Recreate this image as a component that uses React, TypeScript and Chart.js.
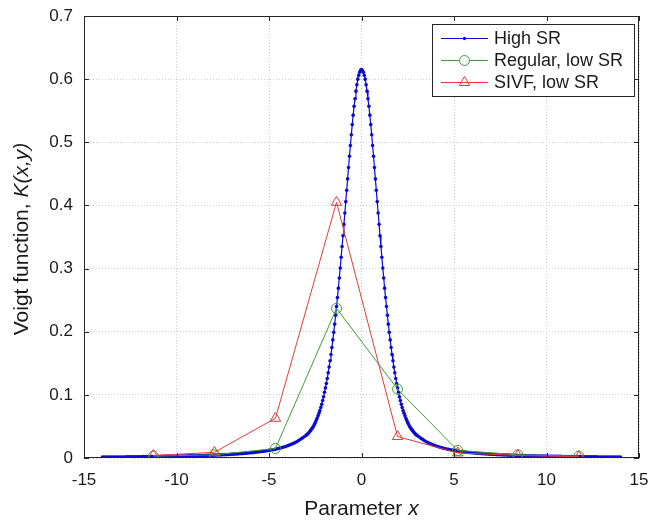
import React, { useEffect, useRef } from "react";
import { Chart, registerables } from "chart.js";

Chart.register(...registerables);

// ---- data ----
const seriesNames = ["High SR", "Regular, low SR", "SIVF, low SR"];

const highX = [
  -14, -13.9, -13.8, -13.7, -13.6, -13.5, -13.4, -13.3, -13.2, -13.1,
  -13, -12.9, -12.8, -12.7, -12.6, -12.5, -12.4, -12.3, -12.2, -12.1,
  -12, -11.9, -11.8, -11.7, -11.6, -11.5, -11.4, -11.3, -11.2, -11.1,
  -11, -10.9, -10.8, -10.7, -10.6, -10.5, -10.4, -10.3, -10.2, -10.1,
  -10, -9.9, -9.8, -9.7, -9.6, -9.5, -9.4, -9.3, -9.2, -9.1,
  -9, -8.9, -8.8, -8.7, -8.6, -8.5, -8.4, -8.3, -8.2, -8.1,
  -8, -7.9, -7.8, -7.7, -7.6, -7.5, -7.4, -7.3, -7.2, -7.1,
  -7, -6.9, -6.8, -6.7, -6.6, -6.5, -6.4, -6.3, -6.2, -6.1,
  -6, -5.9, -5.8, -5.7, -5.6, -5.5, -5.4, -5.3, -5.2, -5.1,
  -5, -4.9, -4.8, -4.7, -4.6, -4.5, -4.4, -4.3, -4.2, -4.1,
  -4, -3.9, -3.8, -3.7, -3.6, -3.5, -3.4, -3.3, -3.2, -3.1,
  -3, -2.95, -2.9, -2.85, -2.8, -2.75, -2.7, -2.65, -2.6, -2.55,
  -2.5, -2.45, -2.4, -2.35, -2.3, -2.25, -2.2, -2.15, -2.1, -2.05,
  -2, -1.95, -1.9, -1.85, -1.8, -1.75, -1.7, -1.65, -1.6, -1.55,
  -1.5, -1.45, -1.4, -1.35, -1.3, -1.25, -1.2, -1.15, -1.1, -1.05,
  -1, -0.95, -0.9, -0.85, -0.8, -0.75, -0.7, -0.65, -0.6, -0.55,
  -0.5, -0.45, -0.4, -0.35, -0.3, -0.25, -0.2, -0.15, -0.1, -0.05,
  0,
  0.05, 0.1, 0.15, 0.2, 0.25, 0.3, 0.35, 0.4, 0.45, 0.5,
  0.55, 0.6, 0.65, 0.7, 0.75, 0.8, 0.85, 0.9, 0.95, 1,
  1.05, 1.1, 1.15, 1.2, 1.25, 1.3, 1.35, 1.4, 1.45, 1.5,
  1.55, 1.6, 1.65, 1.7, 1.75, 1.8, 1.85, 1.9, 1.95, 2,
  2.05, 2.1, 2.15, 2.2, 2.25, 2.3, 2.35, 2.4, 2.45, 2.5,
  2.55, 2.6, 2.65, 2.7, 2.75, 2.8, 2.85, 2.9, 2.95, 3,
  3.1, 3.2, 3.3, 3.4, 3.5, 3.6, 3.7, 3.8, 3.9, 4,
  4.1, 4.2, 4.3, 4.4, 4.5, 4.6, 4.7, 4.8, 4.9, 5,
  5.1, 5.2, 5.3, 5.4, 5.5, 5.6, 5.7, 5.8, 5.9, 6,
  6.1, 6.2, 6.3, 6.4, 6.5, 6.6, 6.7, 6.8, 6.9, 7,
  7.1, 7.2, 7.3, 7.4, 7.5, 7.6, 7.7, 7.8, 7.9, 8,
  8.1, 8.2, 8.3, 8.4, 8.5, 8.6, 8.7, 8.8, 8.9, 9,
  9.1, 9.2, 9.3, 9.4, 9.5, 9.6, 9.7, 9.8, 9.9, 10,
  10.1, 10.2, 10.3, 10.4, 10.5, 10.6, 10.7, 10.8, 10.9, 11,
  11.1, 11.2, 11.3, 11.4, 11.5, 11.6, 11.7, 11.8, 11.9, 12,
  12.1, 12.2, 12.3, 12.4, 12.5, 12.6, 12.7, 12.8, 12.9, 13,
  13.1, 13.2, 13.3, 13.4, 13.5, 13.6, 13.7, 13.8, 13.9, 14,
];

const highY = [
  0.0015, 0.0015, 0.0015, 0.0015, 0.0015, 0.0016, 0.0016, 0.0016, 0.0016, 0.0017,
  0.0017, 0.0017, 0.0017, 0.0018, 0.0018, 0.0018, 0.0019, 0.0019, 0.0019, 0.0019,
  0.002, 0.002, 0.0021, 0.0021, 0.0021, 0.0022, 0.0022, 0.0022, 0.0023, 0.0023,
  0.0024, 0.0024, 0.0025, 0.0025, 0.0025, 0.0026, 0.0026, 0.0027, 0.0028, 0.0028,
  0.0029, 0.0029, 0.003, 0.003, 0.0031, 0.0032, 0.0033, 0.0033, 0.0034, 0.0035,
  0.0036, 0.0036, 0.0037, 0.0038, 0.0039, 0.004, 0.0041, 0.0042, 0.0043, 0.0044,
  0.0045, 0.0046, 0.0048, 0.0049, 0.005, 0.0051, 0.0053, 0.0054, 0.0056, 0.0058,
  0.0059, 0.0061, 0.0063, 0.0065, 0.0067, 0.0069, 0.0071, 0.0074, 0.0076, 0.0079,
  0.0082, 0.0085, 0.0088, 0.0091, 0.0094, 0.0098, 0.0102, 0.0106, 0.011, 0.0115,
  0.012, 0.0125, 0.013, 0.0136, 0.0143, 0.015, 0.0157, 0.0165, 0.0174, 0.0183,
  0.0193, 0.0204, 0.0216, 0.0229, 0.0243, 0.0258, 0.0276, 0.0295, 0.0315, 0.0336,
  0.0358, 0.037, 0.0385, 0.04, 0.0418, 0.0437, 0.0457, 0.048, 0.05, 0.053,
  0.056, 0.0595, 0.063, 0.067, 0.071, 0.075, 0.08, 0.085, 0.091, 0.097,
  0.104, 0.111, 0.118, 0.126, 0.135, 0.144, 0.154, 0.164, 0.175, 0.187,
  0.199, 0.212, 0.226, 0.24, 0.254, 0.269, 0.285, 0.301, 0.318, 0.335,
  0.352, 0.37, 0.388, 0.406, 0.424, 0.442, 0.46, 0.478, 0.495, 0.512,
  0.528, 0.543, 0.557, 0.569, 0.581, 0.591, 0.6, 0.606, 0.611, 0.614,
  0.615,
  0.614, 0.611, 0.606, 0.6, 0.591, 0.581, 0.569, 0.557, 0.543, 0.528,
  0.512, 0.495, 0.478, 0.46, 0.442, 0.424, 0.406, 0.388, 0.37, 0.352,
  0.335, 0.318, 0.301, 0.285, 0.269, 0.254, 0.24, 0.226, 0.212, 0.199,
  0.187, 0.175, 0.164, 0.154, 0.144, 0.135, 0.126, 0.118, 0.111, 0.104,
  0.097, 0.091, 0.085, 0.08, 0.075, 0.071, 0.067, 0.063, 0.0595, 0.056,
  0.053, 0.05, 0.048, 0.0457, 0.0437, 0.0418, 0.04, 0.0385, 0.037, 0.0358,
  0.0336, 0.0315, 0.0295, 0.0276, 0.0258, 0.0243, 0.0229, 0.0216, 0.0204, 0.0193,
  0.0183, 0.0174, 0.0165, 0.0157, 0.015, 0.0143, 0.0136, 0.013, 0.0125, 0.012,
  0.0115, 0.011, 0.0106, 0.0102, 0.0098, 0.0094, 0.0091, 0.0088, 0.0085, 0.0082,
  0.0079, 0.0076, 0.0074, 0.0071, 0.0069, 0.0067, 0.0065, 0.0063, 0.0061, 0.0059,
  0.0058, 0.0056, 0.0054, 0.0053, 0.0051, 0.005, 0.0049, 0.0048, 0.0046, 0.0045,
  0.0044, 0.0043, 0.0042, 0.0041, 0.004, 0.0039, 0.0038, 0.0037, 0.0036, 0.0036,
  0.0035, 0.0034, 0.0033, 0.0033, 0.0032, 0.0031, 0.003, 0.003, 0.0029, 0.0029,
  0.0028, 0.0028, 0.0027, 0.0026, 0.0026, 0.0025, 0.0025, 0.0025, 0.0024, 0.0024,
  0.0023, 0.0023, 0.0022, 0.0022, 0.0022, 0.0021, 0.0021, 0.0021, 0.002, 0.002,
  0.0019, 0.0019, 0.0019, 0.0019, 0.0018, 0.0018, 0.0018, 0.0017, 0.0017, 0.0017,
  0.0017, 0.0016, 0.0016, 0.0016, 0.0016, 0.0015, 0.0015, 0.0015, 0.0015, 0.0015,
];

const lowX = [-11.25, -7.95, -4.65, -1.35, 1.95, 5.2, 8.45, 11.75];
const regularY = [0.003, 0.005, 0.015, 0.237, 0.109, 0.012, 0.005, 0.003];
const sivfY = [0.004, 0.009, 0.063, 0.405, 0.034, 0.008, 0.004, 0.002];

const xTicks = [-15, -10, -5, 0, 5, 10, 15];
const yTicks = [0, 0.1, 0.2, 0.3, 0.4, 0.5, 0.6, 0.7];

const xTitle = ["Parameter ", "x"];
const yTitle = ["Voigt function, ", "K(x,y)"];

// ---- styles ----
const BLUE = "#0a0ad2";
const GREEN = "#3c9c3c";
const RED = "#e03a3a";
const FONT = '"Liberation Sans", Arial, sans-serif';
const FRAME = "#262626";

function drawTri(ctx: CanvasRenderingContext2D, x: number, y: number, r: number) {
  ctx.beginPath();
  ctx.moveTo(x, y - r);
  ctx.lineTo(x + 0.866 * r, y + 0.5 * r);
  ctx.lineTo(x - 0.866 * r, y + 0.5 * r);
  ctx.closePath();
  ctx.stroke();
}

const decor = {
  id: "decor",
  afterDraw(chart: any) {
    const { ctx, chartArea: a, scales } = chart;
    ctx.save();
    // frame
    ctx.strokeStyle = FRAME;
    ctx.lineWidth = 1;
    ctx.strokeRect(a.left + 0.5, a.top + 0.5, a.right - a.left - 1, a.bottom - a.top - 1);
    // inward tick marks
    const tl = 5;
    ctx.beginPath();
    xTicks.forEach((v) => {
      const px = Math.round(scales.x.getPixelForValue(v)) + 0.5;
      ctx.moveTo(px, a.bottom);
      ctx.lineTo(px, a.bottom - tl);
      ctx.moveTo(px, a.top);
      ctx.lineTo(px, a.top + tl);
    });
    yTicks.forEach((v) => {
      const py = Math.round(scales.y.getPixelForValue(v)) + 0.5;
      ctx.moveTo(a.left, py);
      ctx.lineTo(a.left + tl, py);
      ctx.moveTo(a.right, py);
      ctx.lineTo(a.right - tl, py);
    });
    ctx.stroke();

    // axis titles (mixed upright / italic)
    ctx.fillStyle = "#1a1a1a";
    ctx.textBaseline = "alphabetic";
    ctx.textAlign = "left";
    const normal = `21px ${FONT}`;
    const italic = `italic 21px ${FONT}`;
    ctx.font = normal;
    const xw0 = ctx.measureText(xTitle[0]).width;
    ctx.font = italic;
    const xw1 = ctx.measureText(xTitle[1]).width;
    const xcx = (a.left + a.right) / 2;
    const sx = xcx - (xw0 + xw1) / 2;
    ctx.font = normal;
    ctx.fillText(xTitle[0], sx, 515);
    ctx.font = italic;
    ctx.fillText(xTitle[1], sx + xw0, 515);

    ctx.save();
    ctx.translate(28, (a.top + a.bottom) / 2 + 2);
    ctx.rotate(-Math.PI / 2);
    ctx.font = normal;
    const yw0 = ctx.measureText(yTitle[0]).width;
    ctx.font = italic;
    const yw1 = ctx.measureText(yTitle[1]).width;
    const sy = -(yw0 + yw1) / 2;
    ctx.font = normal;
    ctx.fillText(yTitle[0], sy, 0);
    ctx.font = italic;
    ctx.fillText(yTitle[1], sy + yw0, 0);
    ctx.restore();

    // legend
    const bw = 202;
    const bh = 72;
    const bx = a.right - 5 - bw;
    const by = a.top + 8;
    ctx.fillStyle = "#ffffff";
    ctx.fillRect(bx, by, bw, bh);
    ctx.strokeStyle = FRAME;
    ctx.lineWidth = 1;
    ctx.strokeRect(Math.round(bx) + 0.5, Math.round(by) + 0.5, bw, bh);
    const colors = [BLUE, GREEN, RED];
    ctx.font = `18px ${FONT}`;
    ctx.textBaseline = "middle";
    seriesNames.forEach((name, i) => {
      const ry = Math.round(by + 14 + i * 22) + 0.5;
      const lx0 = bx + 9;
      const lx1 = bx + 56;
      const mx = (lx0 + lx1) / 2;
      ctx.strokeStyle = colors[i];
      ctx.lineWidth = 1;
      ctx.beginPath();
      ctx.moveTo(lx0, ry);
      ctx.lineTo(lx1, ry);
      ctx.stroke();
      if (i === 0) {
        ctx.fillStyle = BLUE;
        ctx.beginPath();
        ctx.arc(mx, ry, 1.7, 0, Math.PI * 2);
        ctx.fill();
      } else if (i === 1) {
        ctx.beginPath();
        ctx.arc(mx, ry, 5, 0, Math.PI * 2);
        ctx.fillStyle = "#ffffff";
        ctx.fill();
        ctx.stroke();
      } else {
        drawTri(ctx, mx, ry, 6);
      }
      ctx.fillStyle = "#1a1a1a";
      ctx.fillText(name, bx + 62, ry + 1);
    });
    ctx.restore();
  },
};

export default function App() {
  const ref = useRef<HTMLCanvasElement | null>(null);

  useEffect(() => {
    document.body.style.margin = "0";
    const canvas = ref.current;
    if (!canvas) return;
    const highData = highX.map((x, i) => ({ x, y: highY[i] }));
    const regData = lowX.map((x, i) => ({ x, y: regularY[i] }));
    const sivfData = lowX.map((x, i) => ({ x, y: sivfY[i] }));

    const tickFont = { family: FONT, size: 17 };

    const chart = new Chart(canvas, {
      type: "line",
      data: {
        datasets: [
          {
            label: seriesNames[0],
            data: highData,
            borderColor: BLUE,
            backgroundColor: BLUE,
            borderWidth: 1.2,
            pointRadius: 1.8,
            pointBorderWidth: 0,
            pointBackgroundColor: BLUE,
            order: 3,
          },
          {
            label: seriesNames[1],
            data: regData,
            borderColor: GREEN,
            borderWidth: 1,
            pointStyle: "circle",
            pointRadius: 5,
            pointBorderWidth: 1,
            pointBorderColor: GREEN,
            pointBackgroundColor: "rgba(0,0,0,0)",
            order: 2,
          },
          {
            label: seriesNames[2],
            data: sivfData,
            borderColor: RED,
            borderWidth: 1,
            pointStyle: "triangle",
            pointRadius: 6,
            pointBorderWidth: 1,
            pointBorderColor: RED,
            pointBackgroundColor: "rgba(0,0,0,0)",
            order: 1,
          },
        ],
      },
      options: {
        responsive: false,
        animation: false,
        events: [],
        layout: { padding: { top: 16, right: 10, left: 0, bottom: 0 } },
        plugins: { legend: { display: false }, tooltip: { enabled: false } },
        elements: { line: { tension: 0 } },
        scales: {
          x: {
            type: "linear",
            min: -15,
            max: 15,
            afterFit: (s: any) => {
              s.height = 63;
              s.paddingLeft = 0;
              s.paddingRight = 0;
            },
            afterBuildTicks: (s: any) => {
              s.ticks = xTicks.map((v) => ({ value: v }));
            },
            ticks: { font: tickFont, color: "#1a1a1a", padding: 12, maxRotation: 0 },
            grid: { color: "#cfcfcf", drawTicks: false, lineWidth: 1 },
            border: { display: false, dash: [1, 2] },
          },
          y: {
            type: "linear",
            min: 0,
            max: 0.7,
            afterFit: (s: any) => {
              s.width = 84;
              s.paddingTop = 0;
              s.paddingBottom = 0;
            },
            afterBuildTicks: (s: any) => {
              s.ticks = yTicks.map((v) => ({ value: v }));
            },
            ticks: {
              font: tickFont,
              color: "#1a1a1a",
              padding: 11,
              callback: (v: any) => String(Number(Number(v).toFixed(1))),
            },
            grid: { color: "#cfcfcf", drawTicks: false, lineWidth: 1 },
            border: { display: false, dash: [1, 2] },
          },
        },
      },
      plugins: [decor],
    });
    return () => chart.destroy();
  }, []);

  return (
    <div style={{ width: 649, height: 521, background: "#fff" }}>
      <canvas ref={ref} width={649} height={521} style={{ display: "block" }} />
    </div>
  );
}
